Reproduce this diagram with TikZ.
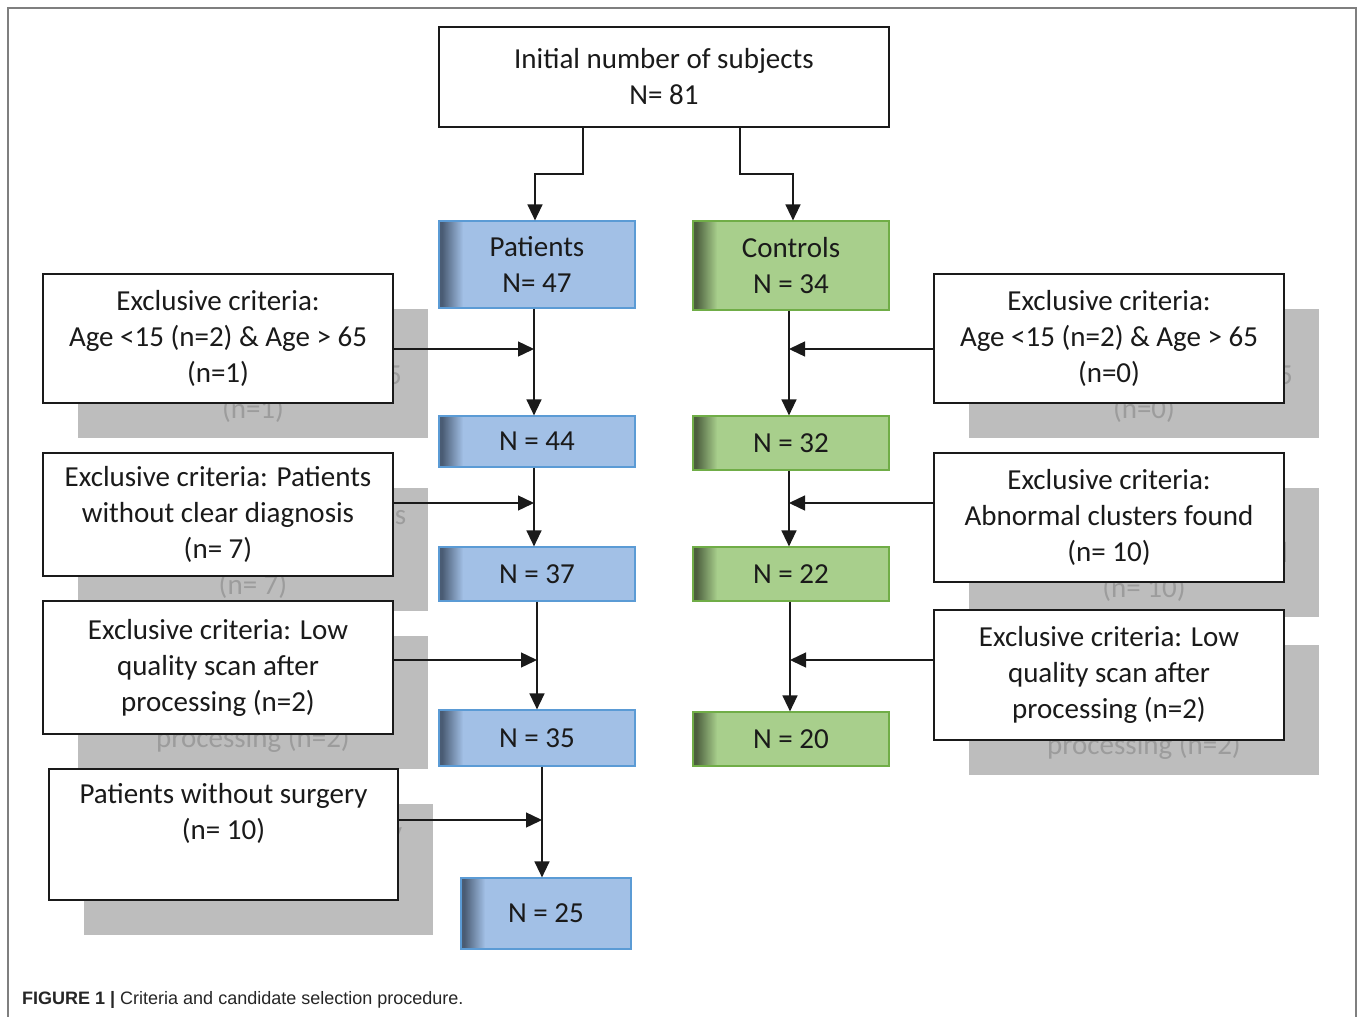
\documentclass[tikz,border=0pt]{standalone}
\usepackage{fontspec}
\setmainfont{Carlito}
\newfontfamily\capfont{Liberation Sans}
\usetikzlibrary{arrows.meta,calc}
\definecolor{bfill}{HTML}{A2C0E6}
\definecolor{bborder}{HTML}{5B9BD5}
\definecolor{bdark}{HTML}{4A5C74}
\definecolor{gfill}{HTML}{A8CF8C}
\definecolor{gborder}{HTML}{70AD47}
\definecolor{gdark}{HTML}{4C5F3E}
\definecolor{shadowgray}{HTML}{BDBDBD}
\definecolor{ghosttext}{HTML}{9C9C9C}
\definecolor{framegray}{HTML}{7F7F7F}
\definecolor{ink}{HTML}{1A1A1A}
\newlength\lwA
\newlength\lwB
\newlength\lwC
\newlength\lwD
\begin{document}
\settowidth\lwA{\fontsize{29}{36}\selectfont Age <15 (n=2) \& Age > 65}%
\settowidth\lwB{\fontsize{29}{36}\selectfont Exclusive criteria: Patients}%
\settowidth\lwC{\fontsize{29}{36}\selectfont Patients without surgery}%
\settowidth\lwD{\fontsize{29}{36}\selectfont Abnormal clusters found}%
\begin{tikzpicture}[x=1pt,y=-1pt,
  txt/.style={font=\fontsize{29}{36}\selectfont, align=center, text=ink, inner sep=0pt},
  whitebox/.style={txt, rectangle, draw=ink, line width=1.3pt, fill=white},
  shadowbox/.style={rectangle, fill=shadowgray, inner sep=0pt},
  ghost/.style={font=\fontsize{29}{36}\selectfont, text=ghosttext, inner sep=0pt},
  edgeshade/.style 2 args={path picture={
      \foreach \i in {0,...,24}{
        \pgfmathtruncatemacro\p{min(100,max(0,(\i-3)*100/21))}
        \fill[#1!\p!#2] ([xshift=\i*1pt]path picture bounding box.north west)
          rectangle ([xshift=\i*1pt+1.2pt]path picture bounding box.south west);
      }}},
  bluebox/.style={txt, rectangle, draw=bborder, line width=1.2pt, fill=bfill, edgeshade={bfill}{bdark}},
  greenbox/.style={txt, rectangle, draw=gborder, line width=1.2pt, fill=gfill, edgeshade={gfill}{gdark}},
  conn/.style={draw=ink, line width=1.4pt, -{Triangle[width=15pt,length=16pt]}}
]
\useasboundingbox (0,0) rectangle (1358,1017);
\fill[white] (0,0) rectangle (1358,1017);
% outer frame
\draw[framegray, line width=2pt] (8,1017) -- (8,8) -- (1356,8) -- (1356,1017);

% top box
\node[whitebox, minimum width=450pt, minimum height=100pt] (init) at (664,77) {Initial number of subjects\\N= 81};

% patients column
\node[bluebox, minimum width=196pt, minimum height=87pt] (pat) at (537,264.5) {Patients\\N= 47};
\node[bluebox, minimum width=196pt, minimum height=51pt] (n44) at (537,441.5) {N = 44};
\node[bluebox, minimum width=196pt, minimum height=54pt] (n37) at (537,574) {N = 37};
\node[bluebox, minimum width=196pt, minimum height=56pt] (n35) at (537,738) {N = 35};
\node[bluebox, minimum width=170pt, minimum height=71pt] (n25) at (546,913.5) {N = 25};

% controls column
\node[greenbox, minimum width=196pt, minimum height=89pt] (con) at (791,265.5) {Controls\\N = 34};
\node[greenbox, minimum width=196pt, minimum height=54pt] (n32) at (791,443) {N = 32};
\node[greenbox, minimum width=196pt, minimum height=54pt] (n22) at (791,574) {N = 22};
\node[greenbox, minimum width=196pt, minimum height=54pt] (n20) at (791,739) {N = 20};

% shadow rectangles (offset copies behind the white boxes)
\node[shadowbox, minimum width=350pt, minimum height=129pt] (s1) at (253,373.5) {};
\node[shadowbox, minimum width=350pt, minimum height=123pt] (s2) at (253,549.5) {};
\node[shadowbox, minimum width=350pt, minimum height=133pt] (s3) at (253,702.5) {};
\node[shadowbox, minimum width=349pt, minimum height=131pt] (s4) at (258.5,869.5) {};
\node[shadowbox, minimum width=350pt, minimum height=129pt] (s5) at (1144,373.5) {};
\node[shadowbox, minimum width=350pt, minimum height=129pt] (s6) at (1144,552.5) {};
\node[shadowbox, minimum width=350pt, minimum height=130pt] (s7) at (1144,710) {};

% visible parts of the shadow text
\node[ghost] (g1) at (253,410) {(n=1)};
\node[ghost] (g2) at (253,586) {(n= 7)};
\node[ghost] (g3) at (253,739) {processing (n=2)};
\node[ghost] (g5) at (1144,410) {(n=0)};
\node[ghost] (g6) at (1144,589) {(n= 10)};
\node[ghost] (g7) at (1144,746) {processing (n=2)};
\coordinate (f1) at ($(218pt,0pt)+(0.5\lwA+35pt,0pt)$);
\coordinate (f2) at ($(218pt,0pt)+(0.5\lwB+35pt,0pt)$);
\coordinate (f4) at ($(223.5pt,0pt)+(0.5\lwC+35pt,0pt)$);
\coordinate (f5) at ($(1109pt,0pt)+(0.5\lwA+35pt,0pt)$);
\coordinate (f6) at ($(1109pt,0pt)+(0.5\lwD+35pt,0pt)$);
\node[ghost, anchor=base east] (h1) at (f1 |- 0,384) {5};
\node[ghost, anchor=base east] (h2) at (f2 |- 0,524) {s};
\node[ghost, anchor=base east] (h4) at (f4 |- 0,841) {y};
\node[ghost, anchor=base east] (h5) at (f5 |- 0,384) {5};
\node[ghost, anchor=base east] (h6) at (f6 |- 0,562) {d};

% left exclusion boxes
\node[whitebox, minimum width=350pt, minimum height=129pt] (e1) at (218,338.5) {Exclusive criteria:\\Age <15 (n=2) \& Age > 65\\(n=1)};
\node[whitebox, minimum width=350pt, minimum height=123pt] (e2) at (218,514.5) {Exclusive criteria: Patients\\without clear diagnosis\\(n= 7)};
\node[whitebox, minimum width=350pt, minimum height=133pt] (e3) at (218,667.5) {Exclusive criteria: Low\\quality scan after\\processing (n=2)};
\node[whitebox, minimum width=349pt, minimum height=131pt] (e4) at (223.5,834.5) {Patients without surgery\\(n= 10)\\\strut};

% right exclusion boxes
\node[whitebox, minimum width=350pt, minimum height=129pt] (e5) at (1109,338.5) {Exclusive criteria:\\Age <15 (n=2) \& Age > 65\\(n=0)};
\node[whitebox, minimum width=350pt, minimum height=129pt] (e6) at (1109,517.5) {Exclusive criteria:\\Abnormal clusters found\\(n= 10)};
\node[whitebox, minimum width=350pt, minimum height=130pt] (e7) at (1109,675) {Exclusive criteria: Low\\quality scan after\\processing (n=2)};

% junction coordinates
\coordinate (j1) at (534,349);
\coordinate (j2) at (534,503);
\coordinate (j3) at (537,660);
\coordinate (j4) at (542,820);
\coordinate (k1) at (789,349);
\coordinate (k2) at (789,503);
\coordinate (k3) at (790,660);
\coordinate (ta) at (583,174);
\coordinate (tb) at (740,174);

% connectors from top
\draw[conn] (init.south -| ta) -- (ta) -| ([xshift=-2pt]pat.north);
\draw[conn] (init.south -| tb) -- (tb) -| ([xshift=2pt]con.north);

% patients flow
\draw[conn] (pat.south -| j1) -- (n44.north -| j1);
\draw[conn] (e1.east |- j1) -- (j1);
\draw[conn] (n44.south -| j2) -- (n37.north -| j2);
\draw[conn] (e2.east |- j2) -- (j2);
\draw[conn] (n37.south -| j3) -- (n35.north -| j3);
\draw[conn] (e3.east |- j3) -- (j3);
\draw[conn] (n35.south -| j4) -- (n25.north -| j4);
\draw[conn] (e4.east |- j4) -- (j4);

% controls flow
\draw[conn] (con.south -| k1) -- (n32.north -| k1);
\draw[conn] (e5.west |- k1) -- (k1);
\draw[conn] (n32.south -| k2) -- (n22.north -| k2);
\draw[conn] (e6.west |- k2) -- (k2);
\draw[conn] (n22.south -| k3) -- (n20.north -| k3);
\draw[conn] (e7.west |- k3) -- (k3);

% caption
\node[anchor=base west, inner sep=0pt, font=\capfont\fontsize{18}{20}\selectfont, text=black!85] (cap) at (22,1004) {\textbf{FIGURE 1 |} Criteria and candidate selection procedure.};
\end{tikzpicture}
\end{document}
